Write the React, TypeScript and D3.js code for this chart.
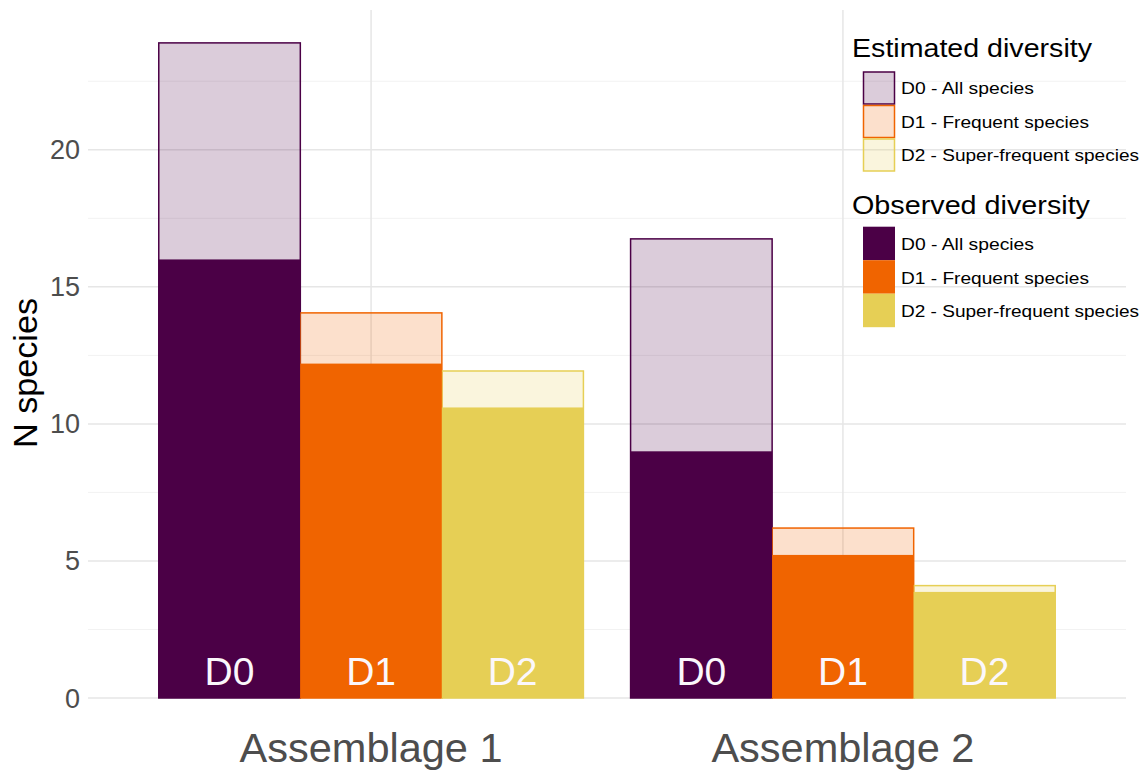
import React from "react";
import * as d3 from "d3";

const assemblages = ["Assemblage 1", "Assemblage 2"];
const orders = ["D0", "D1", "D2"];
const estimated = [
  [23.9, 14.05, 11.93],
  [16.75, 6.2, 4.1],
];
const observed = [
  [16.0, 12.2, 10.6],
  [9.0, 5.22, 3.87],
];
const yTicks = [0, 5, 10, 15, 20];
const yMinor = [2.5, 7.5, 12.5, 17.5, 22.5];
const legendLabels = ["D0 - All species", "D1 - Frequent species", "D2 - Super-frequent species"];
const legendLabelWidths = [133, 188, 238];
const darkColors = ["#4b0046", "#f06400", "#e6cf55"];

const W = 1144;
const H = 772;
const FONT = "'Liberation Sans', Arial, sans-serif";

export default function App() {
  const left = 88, right = 1126, top = 10, bottom = 698;
  const y = d3.scaleLinear().domain([0, 25.1]).range([bottom, top]);
  const xc = d3.scaleLinear().domain([0.4, 2.6]).range([left, right]);
  const barW = 0.3;
  const keyH = 33.5;

  return (
    <svg width={W} height={H} style={{ position: "absolute", left: 0, top: 0, background: "#fff" }} fontFamily={FONT}>
      {yMinor.map((t) => (
        <line key={"mi" + t} x1={left} x2={right} y1={y(t)} y2={y(t)} stroke="#f2f2f2" strokeWidth={1} />
      ))}
      {yTicks.map((t) => (
        <line key={"ma" + t} x1={left} x2={right} y1={y(t)} y2={y(t)} stroke="#e6e6e6" strokeWidth={1.5} />
      ))}
      {assemblages.map((a, i) => (
        <line key={"v" + a} x1={xc(i + 1)} x2={xc(i + 1)} y1={top} y2={bottom} stroke="#e6e6e6" strokeWidth={1.5} />
      ))}
      {assemblages.map((a, i) =>
        orders.map((o, j) => {
          const x0 = xc(i + 1 - 0.45 + j * barW);
          const x1 = xc(i + 1 - 0.45 + (j + 1) * barW);
          return (
            <rect key={"e" + a + o} x={x0} y={y(estimated[i][j])} width={x1 - x0} height={y(0) - y(estimated[i][j])}
              fill={darkColors[j]} fillOpacity={0.2} stroke={darkColors[j]} strokeWidth={1.5} />
          );
        })
      )}
      {assemblages.map((a, i) =>
        orders.map((o, j) => {
          const x0 = xc(i + 1 - 0.45 + j * barW);
          const x1 = xc(i + 1 - 0.45 + (j + 1) * barW);
          return (
            <rect key={"o" + a + o} x={x0} y={y(observed[i][j])} width={x1 - x0} height={y(0) - y(observed[i][j])}
              fill={darkColors[j]} />
          );
        })
      )}
      {assemblages.map((a, i) =>
        orders.map((o, j) => (
          <text key={"l" + a + o} x={xc(i + 1 - 0.45 + (j + 0.5) * barW)} y={685} textAnchor="middle"
            fontSize={39} fill="#fbf7fb">{o}</text>
        ))
      )}
      {yTicks.map((t) => (
        <text key={"yt" + t} x={80} y={y(t) + 9.5} textAnchor="end" fontSize={27} fill="#4d4d4d">{t}</text>
      ))}
      <text transform={`translate(36.5,373) rotate(-90)`} textAnchor="middle" fontSize={33} fill="#000"
        textLength={150} lengthAdjust="spacingAndGlyphs">N species</text>
      {assemblages.map((a, i) => (
        <text key={"xt" + a} x={xc(i + 1)} y={762} textAnchor="middle" fontSize={41} fill="#4d4d4d"
          textLength={263} lengthAdjust="spacingAndGlyphs">{a}</text>
      ))}
      <text x={852} y={56.5} fontSize={26} fill="#000" textLength={240} lengthAdjust="spacingAndGlyphs">Estimated diversity</text>
      {legendLabels.map((l, j) => (
        <g key={"le" + j}>
          <rect x={863.5} y={72 + j * keyH} width={31} height={32} fill={darkColors[j]} fillOpacity={0.2} stroke={darkColors[j]} strokeWidth={1.5} />
          <text x={901} y={94 + j * keyH} fontSize={17} fill="#000" textLength={legendLabelWidths[j]} lengthAdjust="spacingAndGlyphs">{l}</text>
        </g>
      ))}
      <text x={852} y={213.5} fontSize={26} fill="#000" textLength={238} lengthAdjust="spacingAndGlyphs">Observed diversity</text>
      {legendLabels.map((l, j) => (
        <g key={"lo" + j}>
          <rect x={863} y={226.7 + j * keyH} width={32} height={keyH} fill={darkColors[j]} />
          <text x={901} y={250 + j * keyH} fontSize={17} fill="#000" textLength={legendLabelWidths[j]} lengthAdjust="spacingAndGlyphs">{l}</text>
        </g>
      ))}
    </svg>
  );
}
